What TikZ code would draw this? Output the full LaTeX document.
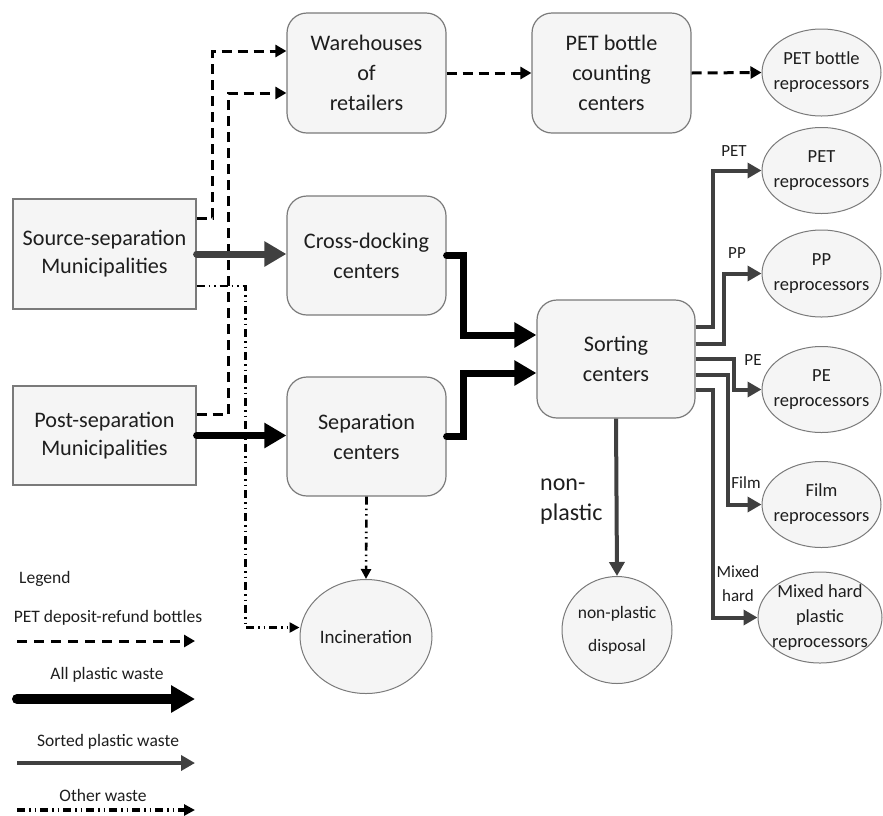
\documentclass[tikz,border=0pt]{standalone}
\usepackage{fontspec}
\setmainfont{Carlito}
\usetikzlibrary{arrows.meta,shapes.geometric}
\definecolor{boxfill}{HTML}{F5F5F5}
\definecolor{boxline}{HTML}{7A7A7A}
\definecolor{txt}{HTML}{1E1E1E}
\definecolor{sorted}{HTML}{404040}
\begin{document}
\begin{tikzpicture}[x=1pt,y=-1pt,
  every node/.style={text=txt},
  box/.style={draw=boxline, line width=1.2pt, fill=boxfill, rounded corners=20pt, align=center,
    minimum width=159pt, minimum height=120pt, inner sep=0pt, font=\fontsize{22.2}{30}\selectfont},
  mbox/.style={draw=boxline, line width=1.2pt, fill=boxfill, align=center,
    minimum width=183pt, inner sep=0pt, font=\fontsize{22.2}{28}\selectfont},
  ell/.style={ellipse, draw=boxline, fill=boxfill, line width=1pt, inner sep=0pt,
    minimum width=119pt, minimum height=86pt},
  elltext/.style={align=center, inner sep=0pt, font=\fontsize{18.5}{25}\selectfont},
  flowlab/.style={align=center, inner sep=0pt, font=\fontsize{17}{24}\selectfont},
  legtext/.style={inner sep=0pt, font=\fontsize{17.5}{20}\selectfont},
  petflow/.style={line width=3pt, dash pattern=on 10pt off 6pt, -{Triangle[length=11pt,width=12pt]}},
  allflow/.style={line width=7pt, -{Triangle[length=22pt,width=24pt]}},
  sortflow/.style={line width=4pt, draw=sorted, -{Triangle[length=14pt,width=15pt,fill=sorted]}},
  otherflow/.style={line width=2.6pt, dash pattern=on 8pt off 4pt on 1.5pt off 4pt on 1.5pt off 4pt,
    -{Triangle[length=10pt,width=10pt]}}
]
\useasboundingbox (0,0) rectangle (883,815);

% boxes
\node[box] (wh) at (366.5,73) {Warehouses\\of\\retailers};
\node[box] (cnt) at (611.5,73) {PET bottle\\counting\\centers};
\node[box, minimum height=119pt] (cross) at (366.5,255.5) {Cross-docking\\centers};
\node[box, minimum height=119pt] (sep) at (366.5,436.5) {Separation\\centers};
\node[box, minimum width=158pt, minimum height=118pt] (sort) at (616,359) {Sorting\\centers};
\node[mbox, minimum height=110pt] (src) at (104.5,254) {Source-separation\\Municipalities};
\node[mbox, minimum height=99pt] (post) at (104.5,435.5) {Post-separation\\Municipalities};

% ellipses
\node[ell, minimum height=87pt] (petb) at (821.5,72.5) {};
\node[elltext] (petb-t) at (petb) {PET bottle\\reprocessors};
\node[ell] (petr) at (821.5,170.5) {};
\node[elltext] (petr-t) at (petr) {PET\\reprocessors};
\node[ell, minimum height=87pt] (ppr) at (821.5,273.5) {};
\node[elltext] (ppr-t) at (ppr) {PP\\reprocessors};
\node[ell] (per) at (821.5,389.5) {};
\node[elltext] (per-t) at (per) {PE\\reprocessors};
\node[ell] (filmr) at (821.5,504.5) {};
\node[elltext] (filmr-t) at (filmr) {Film\\reprocessors};
\node[ell, minimum width=124pt, minimum height=91pt] (mixr) at (820,617.5) {};
\node[elltext] (mixr-t) at (mixr) {Mixed hard\\plastic\\reprocessors};
\node[ell, minimum width=110pt, minimum height=107pt] (npd) at (617,630) {};
\node[elltext, font=\fontsize{17.5}{33}\selectfont] (npd-t) at (npd) {non-plastic\\disposal};
\node[ell, minimum width=132pt, minimum height=114pt] (inc) at (366,636.5) {};
\node[elltext, font=\fontsize{19}{24}\selectfont] (inc-t) at (inc) {Incineration};

% PET deposit-refund flows
\draw[petflow] ([yshift=36pt]src.east) -- ++(16,0) |- ([yshift=22pt]wh.west);
\draw[petflow] ([yshift=21.5pt]post.east) -- ++(32,0) |- ([yshift=-20pt]wh.west);
\draw[petflow] (wh.east) -- (cnt.west);
\draw[petflow] (cnt.east) -- (petb.west);

% other waste
\draw[otherflow] ([yshift=-32pt]src.east) -- ++(49,0) |- ([yshift=9pt]inc.west);
\draw[otherflow] (sep.south) -- (inc.north);

% all plastic waste
\draw[allflow, draw=sorted, line cap=round, -{Triangle[length=22pt,width=24pt,fill=sorted]}] (src.east) -- (src.east -| cross.west);
\draw[allflow, line cap=round] (post.east) -- (post.east -| sep.west);
\draw[allflow, line cap=round] (cross.east) -- ++(17,0) |- ([yshift=24pt]sort.west);
\draw[allflow, line cap=round] (sep.east) -- ++(17,0) |- ([yshift=-14pt]sort.west);

% sorted flows
\draw[sortflow] ([yshift=32pt]sort.east) -- ++(17,0) |- (petr.west);
\draw[sortflow] ([yshift=15pt]sort.east) -- ++(28,0) |- (ppr.west);
\draw[sortflow] (sort.east) -- ++(38,0) |- (per.west);
\draw[sortflow] ([yshift=-16pt]sort.east) -- ++(32,0) |- (filmr.west);
\draw[sortflow] ([yshift=-31pt]sort.east) -- ++(17,0) |- (mixr.west);
\draw[sortflow] (sort.south) -- (npd.north);

% flow labels
\node[flowlab] (l-pet) at (734,151) {PET};
\node[flowlab] (l-pp) at (737,253) {PP};
\node[flowlab] (l-pe) at (753,360) {PE};
\node[flowlab] (l-film) at (746,483) {Film};
\node[flowlab] (l-mix) at (738,584) {Mixed\\hard};
\node[align=left, inner sep=0pt, anchor=west, font=\fontsize{24}{30}\selectfont] (l-np) at (540,502) {non-\\plastic};

% legend
\node[legtext, anchor=west] (lg) at (19,579) {Legend};
\node[legtext] (lg1) at (108,618) {PET deposit-refund bottles};
\coordinate (lg1a) at (17,641); \coordinate (lg1b) at (195,641);
\draw[petflow, dash pattern=on 10pt off 7pt] (lg1a) -- (lg1b);
\node[legtext] (lg2) at (107,675) {All plastic waste};
\coordinate (lg2a) at (17,699); \coordinate (lg2b) at (195,699);
\draw[line width=10pt, line cap=round, -{Triangle[length=24pt,width=26pt]}] (lg2a) -- (lg2b);
\node[legtext] (lg3) at (108,742) {Sorted plastic waste};
\coordinate (lg3a) at (17,763); \coordinate (lg3b) at (195,763);
\draw[sortflow] (lg3a) -- (lg3b);
\node[legtext] (lg4) at (103,795) {Other waste};
\coordinate (lg4a) at (17,810); \coordinate (lg4b) at (195,810);
\draw[otherflow, line width=3.5pt, -{Triangle[length=11pt,width=11pt]}] (lg4a) -- (lg4b);
\end{tikzpicture}
\end{document}
